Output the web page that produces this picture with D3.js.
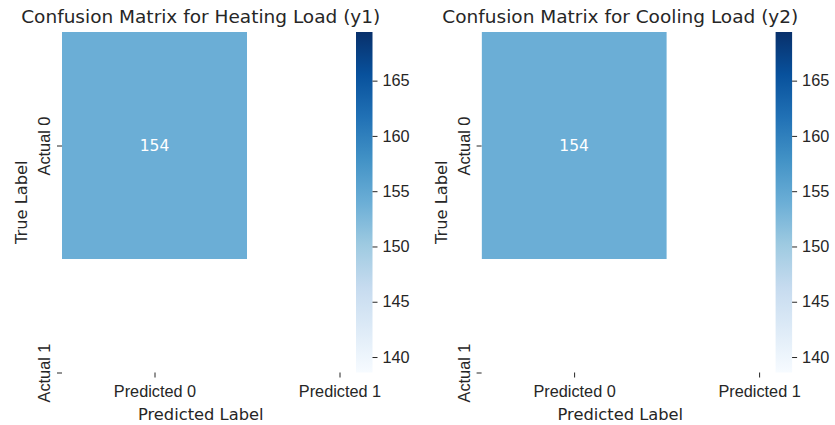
<!DOCTYPE html>
<html>
<head>
<meta charset="utf-8">
<script src="https://cdn.jsdelivr.net/npm/d3@7/dist/d3.min.js"></script>
<style>
  body { margin: 0; background: #fff; }
  svg { display: block; font-family: "DejaVu Sans", sans-serif; }
</style>
</head>
<body>
<div id="chart"></div>
<script>
  "use strict";

  // data
  var predictedLabels = ["Predicted 0", "Predicted 1"];
  var actualLabels = ["Actual 0", "Actual 1"];
  var heatingMatrix = [[154, null], [null, null]];
  var coolingMatrix = [[154, null], [null, null]];
  var panelTitles = ["Confusion Matrix for Heating Load (y1)", "Confusion Matrix for Cooling Load (y2)"];
  var colorbarTicks = [140, 145, 150, 155, 160, 165];

  // matplotlib "Blues" stops
  var BLUES = ["#f7fbff", "#deebf7", "#c6dbef", "#9ecae1", "#6baed6", "#4292c6", "#2171b5", "#08519c", "#08306b"];

  var TICK_FS = "16.3px";
  var TEXT = "#262626";

  var width = 835, height = 425;
  var svg = d3.select("#chart").append("svg")
    .attr("width", width)
    .attr("height", height);
  var defs = svg.append("defs");

  function drawPanel(idx, matrix, title) {
    var ox = idx * 419.6;
    var left = 62 + ox, top = 32;
    var cellW = 185, cellH = 227;

    // single-valued matrix: colour limits widened by 10% like matplotlib does
    var vals = [];
    matrix.forEach(function (row) { row.forEach(function (v) { if (v != null) { vals.push(v); } }); });
    var vmin = d3.min(vals), vmax = d3.max(vals);
    if (vmin === vmax) { vmin = vmin * 0.9; vmax = vmax * 1.1; }

    var color = d3.scaleLinear()
      .domain(BLUES.map(function (c, i) { return vmin + i * (vmax - vmin) / (BLUES.length - 1); }))
      .range(BLUES)
      .clamp(true);

    // axes cut half a cell short at the far side (as in the reference)
    var x = d3.scaleLinear().domain([0, 1.5]).range([left, left + 1.5 * cellW]);
    var y = d3.scaleLinear().domain([0, 1.5]).range([top, top + 1.5 * cellH]);

    defs.append("clipPath").attr("id", "clip" + idx)
      .append("rect")
      .attr("x", x(0)).attr("y", y(0))
      .attr("width", x(1.5) - x(0)).attr("height", y(1.5) - y(0));

    var g = svg.append("g");
    var cells = [];
    matrix.forEach(function (row, i) {
      row.forEach(function (v, j) { cells.push({ i: i, j: j, v: v }); });
    });
    var filled = cells.filter(function (d) { return d.v != null; });

    var cellG = g.append("g").attr("clip-path", "url(#clip" + idx + ")");
    cellG.selectAll("rect")
      .data(filled)
      .enter().append("rect")
      .attr("x", function (d) { return x(d.j); })
      .attr("y", function (d) { return y(d.i); })
      .attr("width", function (d) { return x(d.j + 1) - x(d.j); })
      .attr("height", function (d) { return y(d.i + 1) - y(d.i); })
      .attr("fill", function (d) { return color(d.v); });

    cellG.selectAll("text")
      .data(filled)
      .enter().append("text")
      .attr("x", function (d) { return x(d.j + 0.5); })
      .attr("y", function (d) { return y(d.i + 0.5); })
      .attr("dy", "0.36em")
      .attr("text-anchor", "middle")
      .attr("font-size", "15.5px")
      .attr("fill", "#fff")
      .text(function (d) { return d.v; });

    // x axis
    var xAxis = g.append("g")
      .attr("transform", "translate(0," + y(1.5) + ")")
      .call(d3.axisBottom(x)
        .tickValues([0.5, 1.5])
        .tickSize(5)
        .tickPadding(8)
        .tickFormat(function (d, k) { return predictedLabels[k]; }));
    xAxis.select(".domain").remove();
    xAxis.selectAll("text").attr("font-size", TICK_FS).attr("fill", TEXT);
    xAxis.selectAll("line").attr("stroke", TEXT);

    // y axis, labels turned vertical
    var yAxis = g.append("g")
      .attr("transform", "translate(" + x(0) + ",0)")
      .call(d3.axisLeft(y)
        .tickValues([0.5, 1.5])
        .tickSize(5)
        .tickFormat(function (d, k) { return actualLabels[k]; }));
    yAxis.select(".domain").remove();
    yAxis.selectAll("line").attr("stroke", TEXT);
    yAxis.selectAll("text")
      .attr("font-size", TICK_FS)
      .attr("fill", TEXT)
      .attr("transform", "rotate(-90)")
      .attr("dy", null)
      .attr("x", 0)
      .attr("y", -12)
      .attr("text-anchor", "middle");

    // axis labels and title
    g.append("text")
      .attr("x", (x(0) + x(1.5)) / 2)
      .attr("y", 420)
      .attr("text-anchor", "middle")
      .attr("font-size", TICK_FS)
      .attr("fill", TEXT)
      .text("Predicted Label");

    g.append("text")
      .attr("transform", "translate(" + (27 + ox) + "," + ((y(0) + y(1.5)) / 2) + ") rotate(-90)")
      .attr("text-anchor", "middle")
      .attr("font-size", TICK_FS)
      .attr("fill", TEXT)
      .text("True Label");

    g.append("text")
      .attr("x", (x(0) + x(1.5)) / 2)
      .attr("y", 23)
      .attr("text-anchor", "middle")
      .attr("font-size", "18.5px")
      .attr("fill", TEXT)
      .text(title);

    // colorbar
    var cbX = 356 + ox, cbW = 16.5;
    var cbY = d3.scaleLinear().domain([vmin, vmax]).range([y(1.5), y(0)]);

    var grad = defs.append("linearGradient")
      .attr("id", "grad" + idx)
      .attr("x1", 0).attr("y1", 1).attr("x2", 0).attr("y2", 0);
    grad.selectAll("stop")
      .data(BLUES)
      .enter().append("stop")
      .attr("offset", function (c, i) { return i / (BLUES.length - 1); })
      .attr("stop-color", function (c) { return c; });

    g.append("rect")
      .attr("x", cbX).attr("y", cbY(vmax))
      .attr("width", cbW).attr("height", cbY(vmin) - cbY(vmax))
      .attr("fill", "url(#grad" + idx + ")");

    var cbAxis = g.append("g")
      .attr("transform", "translate(" + (cbX + cbW) + ",0)")
      .call(d3.axisRight(cbY)
        .tickValues(colorbarTicks)
        .tickSize(5)
        .tickPadding(5));
    cbAxis.select(".domain").remove();
    cbAxis.selectAll("text").attr("font-size", TICK_FS).attr("fill", TEXT);
    cbAxis.selectAll("line").attr("stroke", TEXT);
  }

  drawPanel(0, heatingMatrix, panelTitles[0]);
  drawPanel(1, coolingMatrix, panelTitles[1]);
</script>
</body>
</html>
